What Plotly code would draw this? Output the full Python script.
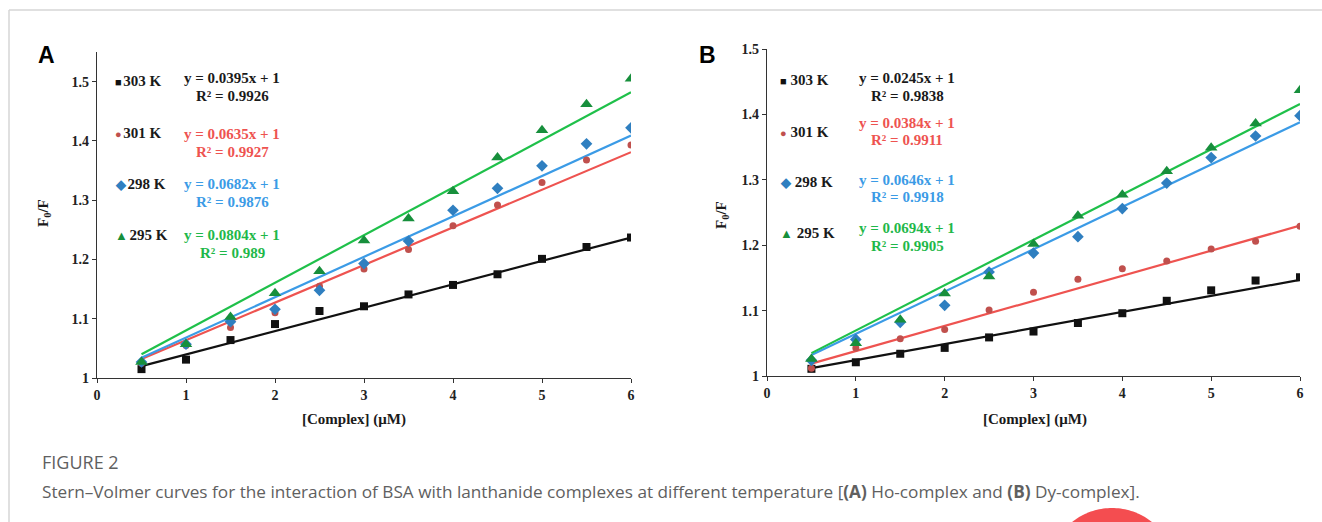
import math
import plotly.graph_objects as go

W, H = 1322, 522

# ---------------- data ----------------
conc = [0.5, 1, 1.5, 2, 2.5, 3, 3.5, 4, 4.5, 5, 5.5, 6]
temps = ["303 K", "301 K", "298 K", "295 K"]

# Panel A (Ho-complex)
a_303 = [1.015, 1.031, 1.064, 1.091, 1.113, 1.121, 1.141, 1.157, 1.175, 1.201, 1.221, 1.237]
a_301 = [1.025, 1.055, 1.085, 1.110, 1.155, 1.184, 1.217, 1.257, 1.292, 1.330, 1.368, 1.393]
a_298 = [1.027, 1.057, 1.095, 1.116, 1.148, 1.193, 1.231, 1.283, 1.320, 1.358, 1.395, 1.422]
a_295 = [1.027, 1.057, 1.103, 1.143, 1.180, 1.232, 1.269, 1.315, 1.372, 1.418, 1.462, 1.505]
a_eq = ["y = 0.0395x + 1", "y = 0.0635x + 1", "y = 0.0682x + 1", "y = 0.0804x + 1"]
a_r2 = ["R² = 0.9926", "R² = 0.9927", "R² = 0.9876", "R² = 0.989"]
# trend line end values at x = 0.5 and x = 6
trend_x = [0.5, 6]
a_trend = [[1.020, 1.237], [1.032, 1.381], [1.034, 1.409], [1.040, 1.482]]

# Panel B (Dy-complex)
b_303 = [1.011, 1.021, 1.034, 1.043, 1.059, 1.068, 1.081, 1.096, 1.115, 1.131, 1.146, 1.151]
b_301 = [1.012, 1.043, 1.057, 1.071, 1.101, 1.128, 1.148, 1.164, 1.176, 1.194, 1.206, 1.229]
b_298 = [1.024, 1.056, 1.082, 1.108, 1.159, 1.188, 1.213, 1.256, 1.295, 1.334, 1.367, 1.398]
b_295 = [1.026, 1.050, 1.086, 1.126, 1.152, 1.202, 1.245, 1.277, 1.313, 1.349, 1.386, 1.437]
b_eq = ["y = 0.0245x + 1", "y = 0.0384x + 1", "y = 0.0646x + 1", "y = 0.0694x + 1"]
b_r2 = ["R² = 0.9838", "R² = 0.9911", "R² = 0.9918", "R² = 0.9905"]
b_trend = [[1.012, 1.147], [1.019, 1.230], [1.032, 1.388], [1.035, 1.416]]

x_ticks = [0, 1, 2, 3, 4, 5, 6]
a_yticks = [1, 1.1, 1.2, 1.3, 1.4, 1.5]
b_yticks = [1, 1.1, 1.2, 1.3, 1.4, 1.5]

# ---------------- styles ----------------
marker_symbols = ["square", "circle", "diamond", "triangle-up"]
marker_colors = ["#111111", "#c0504d", "#2f7fc0", "#178f3c"]
marker_sizes = [8, 7, 9, 11]
line_colors = ["#111111", "#ee5350", "#3b9be6", "#1fc04a"]
text_colors = ["#1a1a1a", "#ee5350", "#3b9be6", "#1fb84a"]
legend_glyphs = ["■", "●", "◆", "▲"]

SERIF = "Liberation Serif"


def px(x):
    return x / W


def py(y):
    return 1 - y / H


fig = go.Figure()

panels = [
    dict(xa="x", ya="y", series=[a_303, a_301, a_298, a_295], trend=a_trend),
    dict(xa="x2", ya="y2", series=[b_303, b_301, b_298, b_295], trend=b_trend),
]

for p in panels:
    for i in range(4):
        fig.add_trace(go.Scatter(
            x=trend_x, y=p["trend"][i], mode="lines",
            line=dict(color=line_colors[i], width=2.2),
            xaxis=p["xa"], yaxis=p["ya"], showlegend=False, hoverinfo="skip"))
    for i in range(4):
        fig.add_trace(go.Scatter(
            x=conc, y=p["series"][i], mode="markers",
            marker=dict(symbol=marker_symbols[i], color=marker_colors[i],
                        size=marker_sizes[i], line=dict(width=0)),
            xaxis=p["xa"], yaxis=p["ya"], showlegend=False, name=temps[i]))

tickfont = dict(family=SERIF, size=14, color="#222222", weight="bold")
axis_common = dict(showline=True, linecolor="#333333", linewidth=1.3, ticks="outside",
                   ticklen=4, tickwidth=1.2, tickcolor="#333333", showgrid=False,
                   zeroline=False, tickfont=tickfont, fixedrange=True, automargin=False)

fig.update_layout(
    width=W, height=H, autosize=False,
    margin=dict(l=0, r=0, t=0, b=0, pad=0, autoexpand=False),
    showlegend=False,
    paper_bgcolor="white", plot_bgcolor="white",
    xaxis=dict(domain=[px(97), px(631)], range=[0, 6], anchor="y",
               tickvals=x_ticks, **axis_common),
    yaxis=dict(domain=[py(378), py(52)], range=[1, 1.55], anchor="x",
               tickvals=a_yticks, ticktext=[f"{v:g}" for v in a_yticks], **axis_common),
    xaxis2=dict(domain=[px(767), px(1300)], range=[0, 6], anchor="y2",
                tickvals=x_ticks, **axis_common),
    yaxis2=dict(domain=[py(376), py(49)], range=[1, 1.5], anchor="x2",
                tickvals=b_yticks, ticktext=[f"{v:g}" for v in b_yticks], **axis_common),
)

ann = []


def text(x, y, s, size=14, color="#1a1a1a", family=SERIF, xanchor="center", weight="bold",
         angle=0):
    ann.append(dict(x=px(x), y=py(y), xref="paper", yref="paper", text=s,
                    showarrow=False, xanchor=xanchor, yanchor="middle", textangle=angle,
                    font=dict(family=family, size=size, color=color, weight=weight)))


# Legend blocks
a_leg_y = [81, 133, 184, 235]
a_eq_y = [78, 134, 184, 235]
a_r2_y = [96, 152, 202, 253]
b_leg_y = [80, 132, 182, 233]
b_eq_y = [78, 123, 180, 228]
b_r2_y = [96, 140, 197, 246]
glyph_sizes = [11, 11, 13, 13]

for i in range(4):
    text(113, a_leg_y[i],
         f"<span style='color:{marker_colors[i]};font-size:{glyph_sizes[i]}px'>{legend_glyphs[i]}</span>"
         f"<span style='font-size:6px'> </span>{temps[i]}",
         xanchor="left", size=15)
    text(232, a_eq_y[i], a_eq[i], color=text_colors[i], size=15)
    text(232, a_r2_y[i], a_r2[i], color=text_colors[i], size=15)
    text(778, b_leg_y[i],
         f"<span style='color:{marker_colors[i]};font-size:{glyph_sizes[i]}px'>{legend_glyphs[i]}</span> {temps[i]}",
         xanchor="left", size=15)
    text(907, b_eq_y[i], b_eq[i], color=text_colors[i], size=15)
    text(907, b_r2_y[i], b_r2[i], color=text_colors[i], size=15)

# Axis titles
text(44, 213, "F<sub>0</sub>/F", size=15, angle=-90)
text(722, 215, "F<sub>0</sub>/F", size=15, angle=-90)
text(354, 419, "[Complex] (μM)", size=15)
text(1035, 419, "[Complex] (μM)", size=15)

# Panel letters
text(46, 55, "A", size=23, family="Liberation Sans", color="#000000")
text(707, 55, "B", size=23, family="Liberation Sans", color="#000000")

# Caption
text(40, 462, "FIGURE 2", size=18, family="Open Sans", color="#606060", xanchor="left",
     weight="normal")
text(40, 491,
     "Stern–Volmer curves for the interaction of BSA with lanthanide complexes at different "
     "temperature [<b>(A)</b> Ho-complex and <b>(B)</b> Dy-complex].",
     size=17.2, family="Open Sans", color="#606060", xanchor="left", weight="normal")

fig.update_layout(annotations=ann)

# Frame (kept inside the page)
fig.add_shape(type="line", xref="paper", yref="paper", x0=px(9), x1=1, y0=py(10), y1=py(10),
              line=dict(color="#d6d6d6", width=1.5))
fig.add_shape(type="line", xref="paper", yref="paper", x0=px(9), x1=px(9), y0=py(10), y1=0,
              line=dict(color="#d6d6d6", width=1.5))

# Decorative red circle, only the part that is visible above the bottom edge
cx, cy, r = 1112, 572, 64
half = math.sqrt(r * r - (cy - H) ** 2)
a0 = math.atan2(H - cy, -half)
a1 = math.atan2(H - cy, half)
pts = []
n = 40
for k in range(n + 1):
    ang = a0 + (a1 - a0) * k / n
    pts.append((cx + r * math.cos(ang), cy + r * math.sin(ang)))
path = "M " + " L ".join(f"{px(x):.5f},{py(min(y, H)):.5f}" for x, y in pts) + " Z"
fig.add_shape(type="path", xref="paper", yref="paper", path=path,
              fillcolor="#f44d50", line=dict(width=0))

fig.write_html("out.html", config={"displayModeBar": False})
